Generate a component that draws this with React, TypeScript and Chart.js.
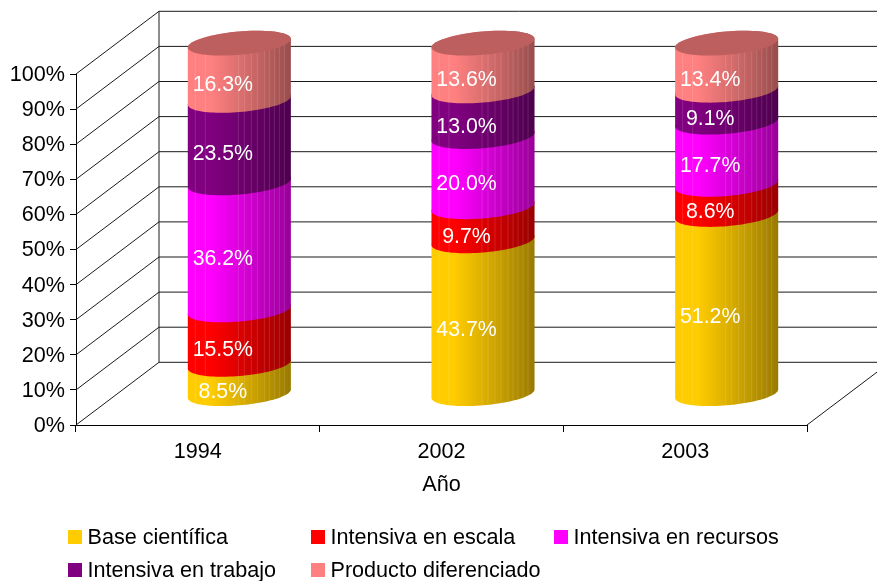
import React, { useEffect, useRef } from "react";
import { Chart, registerables } from "chart.js";

Chart.register(...registerables);

const categories = ["1994", "2002", "2003"];
const baseCientifica = [8.5, 43.7, 51.2];
const intensivaEscala = [15.5, 9.7, 8.6];
const intensivaRecursos = [36.2, 20.0, 17.7];
const intensivaTrabajo = [23.5, 13.0, 9.1];
const productoDiferenciado = [16.3, 13.6, 13.4];

const FONT = "'Liberation Sans', Arial, sans-serif";
const TEXT_SIZE = 21.6;
const DEPTH_X = 83;
const DEPTH_Y = 62.7;
const STRIPES = [7, 17, 50, 56, 63, 69, 76, 81, 86, 91, 96];
const COLS = [68, 311, 554];
const ROWS = [530, 563];

function shade(hex: string, f: number) {
  const n = parseInt(hex.slice(1), 16);
  const r = Math.round(((n >> 16) & 255) * f);
  const g = Math.round(((n >> 8) & 255) * f);
  const b = Math.round((n & 255) * f);
  return `rgb(${r},${g},${b})`;
}

const SKEW = -4.25;
const RY = 11.7;

function ellipseArc(ctx: CanvasRenderingContext2D, cx: number, cy: number, a: number, start: number, end: number) {
  const steps = 48;
  for (let i = 0; i <= steps; i++) {
    const t = start + ((end - start) * i) / steps;
    const x = cx + a * Math.cos(t);
    const y = cy + RY * Math.sin(t) + SKEW * Math.cos(t);
    ctx.lineTo(x, y);
  }
}

const scene = {
  id: "scene",
  beforeDatasetDraw() {
    return false;
  },
  beforeDatasetsDraw(chart: any) {
    const { ctx, scales } = chart;
    const xs = scales.x;
    const ys = scales.y;
    const left = xs.left;
    const right = xs.right;
    const y0 = ys.getPixelForValue(0);
    ctx.save();
    ctx.strokeStyle = "#1a1a1a";
    ctx.lineWidth = 1;
    const line = (a: number, b: number, c: number, d: number) => {
      ctx.beginPath();
      ctx.moveTo(a, b);
      ctx.lineTo(c, d);
      ctx.stroke();
    };
    ys.ticks.forEach((t: any) => {
      const y = ys.getPixelForValue(t.value);
      line(left, y, left + DEPTH_X, y - DEPTH_Y);
      line(left + DEPTH_X, y - DEPTH_Y, right + DEPTH_X, y - DEPTH_Y);
    });
    line(left + DEPTH_X, ys.getPixelForValue(100) - DEPTH_Y, left + DEPTH_X, y0 - DEPTH_Y);
    line(right, y0, right + DEPTH_X, y0 - DEPTH_Y);
    ctx.restore();

    const dsCount = chart.data.datasets.length;
    categories.forEach((_, ci) => {
      for (let di = 0; di < dsCount; di++) {
        const el = chart.getDatasetMeta(di).data[ci];
        const color = chart.data.datasets[di].backgroundColor as string;
        const cx = el.x + DEPTH_X / 2;
        const a = el.width / 2;
        const yb = el.base - DEPTH_Y / 2 + 0.5;
        const yt = el.y - DEPTH_Y / 2 + 0.5;
        ctx.save();
        ctx.beginPath();
        ctx.moveTo(cx - a, yb - SKEW);
        ellipseArc(ctx, cx, yb, a, Math.PI, 0);
        ellipseArc(ctx, cx, yt, a, 0, -Math.PI);
        ctx.closePath();
        const g = ctx.createLinearGradient(cx - a, 0, cx + a, 0);
        g.addColorStop(0, shade(color, 1));
        g.addColorStop(0.22, shade(color, 1));
        g.addColorStop(0.55, shade(color, 0.84));
        g.addColorStop(1, shade(color, 0.6));
        ctx.fillStyle = g;
        ctx.fill();
        ctx.clip();
        ctx.fillStyle = "rgba(255,255,255,0.13)";
        STRIPES.forEach((s) => {
          ctx.fillRect(cx - a + (s * a * 2) / 103, 0, 1, 581);
        });
        ctx.restore();
        if (di === dsCount - 1) {
          ctx.beginPath();
          ctx.moveTo(cx - a, yt - SKEW);
          ellipseArc(ctx, cx, yt, a, Math.PI, 3 * Math.PI);
          ctx.closePath();
          ctx.fillStyle = shade(color, 0.74);
          ctx.fill();
        }
      }
    });
  },
  afterDatasetsDraw(chart: any) {
    const { ctx } = chart;
    ctx.save();
    ctx.font = `21.3px ${FONT}`;
    ctx.textAlign = "center";
    ctx.textBaseline = "middle";
    ctx.fillStyle = "#ffffff";
    chart.data.datasets.forEach((ds: any, di: number) => {
      chart.getDatasetMeta(di).data.forEach((el: any, i: number) => {
        const mid = (el.y + el.base) / 2;
        ctx.fillText(ds.data[i].toFixed(1) + "%", el.x + DEPTH_X / 2 - 16.5, mid - DEPTH_Y / 2 + 13.5);
      });
    });
    ctx.font = `${TEXT_SIZE}px ${FONT}`;
    ctx.textAlign = "left";
    chart.data.datasets.forEach((ds: any, di: number) => {
      const col = COLS[di % 3];
      const row = ROWS[Math.floor(di / 3)];
      ctx.fillStyle = ds.backgroundColor;
      ctx.fillRect(col, row, 14, 14);
      ctx.fillStyle = "#000000";
      ctx.fillText(ds.label, col + 19.5, row + 8);
    });
    ctx.restore();
  },
};

export default function App() {
  const ref = useRef<HTMLCanvasElement | null>(null);
  useEffect(() => {
    const make = (label: string, data: number[], backgroundColor: string) => ({
      label,
      data,
      backgroundColor,
      stack: "s",
      categoryPercentage: 1,
      barPercentage: 103 / 243.5,
    });
    const chart = new Chart(ref.current as HTMLCanvasElement, {
      type: "bar",
      data: {
        labels: categories,
        datasets: [
          make("Base científica", baseCientifica, "#FFCC00"),
          make("Intensiva en escala", intensivaEscala, "#FF0000"),
          make("Intensiva en recursos", intensivaRecursos, "#FF00FF"),
          make("Intensiva en trabajo", intensivaTrabajo, "#800080"),
          make("Producto diferenciado", productoDiferenciado, "#FF8080"),
        ],
      },
      options: {
        responsive: false,
        animation: false,
        layout: { padding: { top: 74, right: 70, left: 0, bottom: 0 } },
        plugins: { legend: { display: false }, tooltip: { enabled: false } },
        scales: {
          x: {
            stacked: true,
            afterFit: (s: any) => {
              s.height = 156;
            },
            grid: { drawOnChartArea: false, tickLength: 7, color: "#000", offset: true },
            border: { color: "#000", width: 1 },
            ticks: { color: "#000", font: { family: FONT, size: TEXT_SIZE }, padding: 7, maxRotation: 0 },
            title: {
              display: true,
              text: "Año",
              color: "#000",
              font: { family: FONT, size: TEXT_SIZE },
              padding: { top: 0, bottom: 83 },
            },
          },
          y: {
            stacked: true,
            min: 0,
            max: 100,
            afterFit: (s: any) => {
              s.width = 76;
            },
            grid: { drawOnChartArea: false, tickLength: 6, color: "#000" },
            border: { color: "#000", width: 1 },
            ticks: {
              stepSize: 10,
              color: "#000",
              font: { family: FONT, size: TEXT_SIZE },
              padding: 5,
              labelOffset: 1,
              callback: (v: any) => `${v}%`,
            },
          },
        },
      },
      plugins: [scene as any],
    });
    return () => chart.destroy();
  }, []);
  return (
    <div style={{ position: "absolute", left: 0, top: 0, width: 877, height: 581 }}>
      <canvas ref={ref} width={877} height={581} style={{ display: "block" }} />
    </div>
  );
}
